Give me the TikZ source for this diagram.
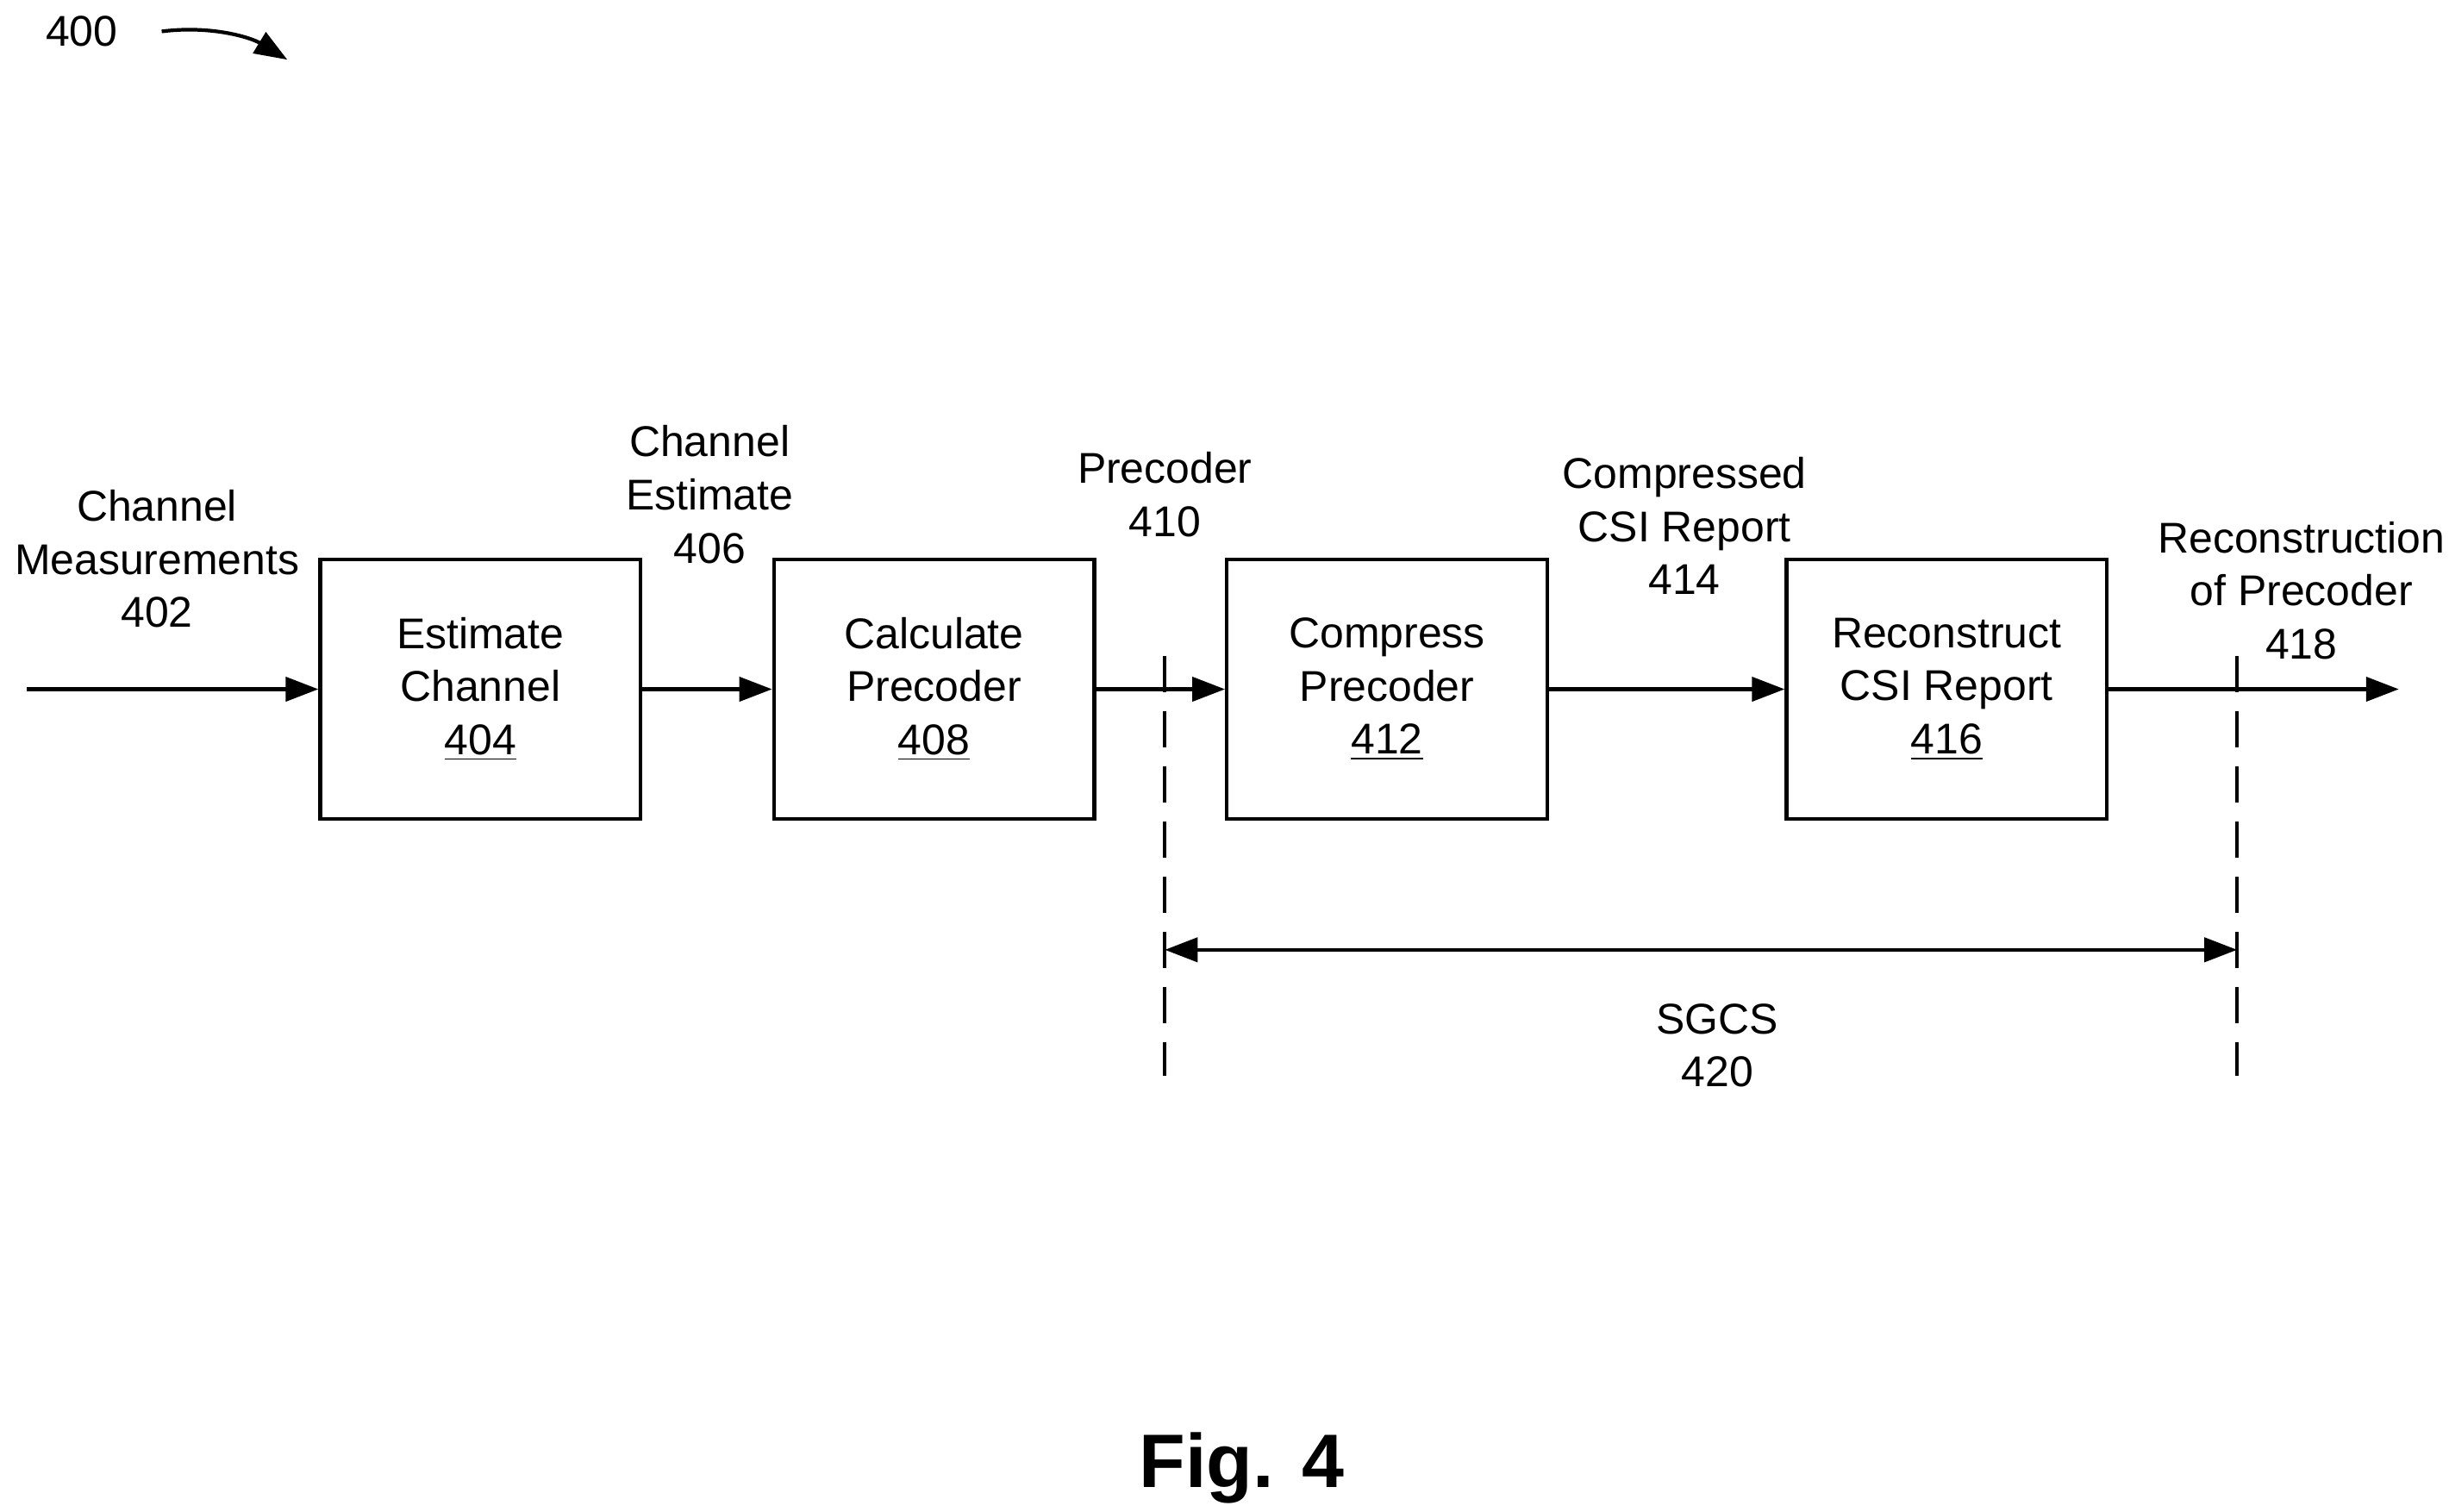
\documentclass[tikz,border=0pt]{standalone}
\usepackage{fontspec}
\setmainfont{Liberation Sans}
\usetikzlibrary{arrows.meta}
\begin{document}
\fontsize{14.2}{17.5}\selectfont
\begin{tikzpicture}[x=0.01821cm,y=-0.01821cm,
      block/.style={rectangle,
                    draw,
                    line width=1.2pt,
                    minimum width=3.715cm,
                    minimum height=3.005cm,
                    align=center},
      label/.style={align=center},
      flow/.style={line width=1.2pt,-{Triangle[length=0.38cm,width=0.28cm]}},
      marker/.style={line width=1.2pt,dash pattern=on 0.42cm off 0.22cm}
    ]
    \useasboundingbox (0,0) rectangle (1560,963);

    \node[block] (estimate)    at (306,439)  {Estimate\\Channel\\\underline{404}};
    \node[block] (calculate)   at (595,439)  {Calculate\\Precoder\\\underline{408}};
    \node[block] (compress)    at (883.5,439) {Compress\\Precoder\\\underline{412}};
    \node[block] (reconstruct) at (1240,439) {Reconstruct\\CSI Report\\\underline{416}};

    \coordinate (input)  at (17,439);
    \coordinate (output) at (1528,439);

    \node[label] (measurements) at (100,356)  {Channel\\Measurements\\402};
    \node[label] (chanest)      at (452,315)  {Channel\\Estimate\\406};
    \node[label] (precoder)     at (742,315)  {Precoder\\410};
    \node[label] (csireport)    at (1073,335) {Compressed\\CSI Report\\414};
    \node[label] (recprecoder)  at (1466,376) {Reconstruction\\of Precoder\\418};
    \node[label] (sgcs)         at (1094,666) {SGCS\\420};
    \node (fignum) at (791,935) {\fontsize{25}{28}\selectfont\bfseries Fig. 4};
    \node (ref) at (52,20) {400};

    \draw [flow] (input) -- (estimate);
    \draw [flow] (estimate) -- (calculate);
    \draw [flow] (calculate) -- (compress);
    \draw [flow] (compress) -- (reconstruct);
    \draw [flow] (reconstruct) -- (output);

    \draw [marker] (742,418) -- (742,685);
    \draw [marker] (1425,418) -- (1425,685);
    \draw [line width=1.2pt,{Triangle[length=0.38cm,width=0.28cm]}-{Triangle[length=0.38cm,width=0.28cm]}]
          (742,605) -- (1425,605);

    \draw [line width=1.2pt,-{Triangle[length=0.38cm,width=0.28cm]}] (103,20)
          .. controls (135,16) and (160,24) .. (183,38);
\end{tikzpicture}
\end{document}
